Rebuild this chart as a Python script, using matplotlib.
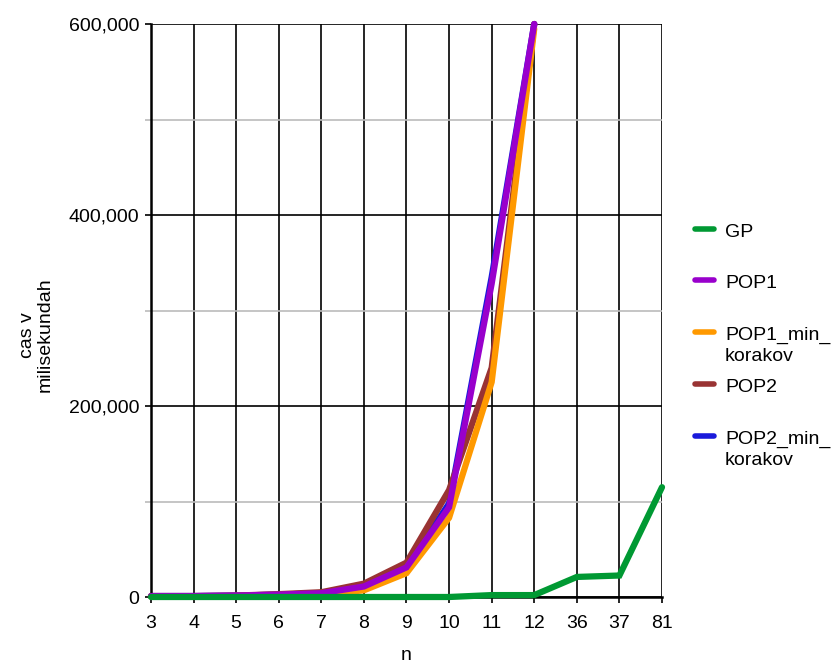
import matplotlib
matplotlib.use("Agg")
import matplotlib.pyplot as plt
from matplotlib.lines import Line2D
from matplotlib.ticker import FuncFormatter, MultipleLocator
import numpy as np

plt.rcParams['font.family'] = ['Liberation Sans', 'DejaVu Sans']

n_labels = ['3', '4', '5', '6', '7', '8', '9', '10', '11', '12', '36', '37', '81']

# cas v milisekundah
gp = [0, 0, 0, 0, 0, 0, 0, 0, 2000, 2000, 21000, 22500, 115000]
pop1 = [1000, 1000, 1500, 2500, 4000, 11000, 31000, 94000, 328000, 600000]
pop1_min = [500, 500, 1000, 1500, 2500, 7000, 25000, 83000, 225000, 595000]
pop2 = [1000, 1000, 1500, 3000, 5000, 14000, 36000, 112000, 240000, 600000]
pop2_min = [1000, 1000, 1500, 2500, 4000, 11000, 31000, 98000, 335000, 600000]

series = [
    ('GP', gp, '#009933', 6),
    ('POP1', pop1, '#9900cc', 5),
    ('POP1_min_\nkorakov', pop1_min, '#ff9900', 3),
    ('POP2', pop2, '#993333', 2),
    ('POP2_min_\nkorakov', pop2_min, '#1a1adb', 1),
]

fig = plt.figure(figsize=(8.37, 6.65), dpi=100)
W, H = 837, 665
ax = fig.add_axes([151 / W, 1 - 597 / H, (662 - 151) / W, (597 - 24) / H])

x = np.arange(len(n_labels))
for name, vals, col, z in series:
    ax.plot(x[:len(vals)], vals, color=col, lw=4.5, solid_capstyle='round',
            solid_joinstyle='miter', zorder=z, clip_on=False)

ax.set_xlim(0, len(n_labels) - 1)
ax.set_ylim(0, 600000)
ax.set_xticks(x)
ax.set_xticklabels(n_labels)
ax.yaxis.set_major_locator(MultipleLocator(200000))
ax.yaxis.set_minor_locator(MultipleLocator(100000))
ax.yaxis.set_major_formatter(FuncFormatter(lambda v, p: '{:,.0f}'.format(v)))

ax.grid(True, which='major', axis='both', color='black', lw=1.2, zorder=0)
ax.grid(True, which='minor', axis='y', color='#bbbbbb', lw=1.2, zorder=0)
ax.set_axisbelow(True)

for s in ['top', 'right']:
    ax.spines[s].set_visible(False)
ax.spines['left'].set_linewidth(1.8)
ax.spines['bottom'].set_linewidth(1.8)
ax.tick_params(axis='both', which='major', length=4.5, width=1.2, labelsize=14)
ax.tick_params(axis='x', which='major', pad=8.5)
ax.tick_params(axis='y', which='major', pad=4)
ax.tick_params(axis='y', which='minor', length=4.5, width=1.2, color='#bbbbbb')

ax.set_xlabel('n', fontsize=14, labelpad=11)
fig.text(36 / W, 1 - 335 / H, 'cas v\nmilisekundah', rotation=90, fontsize=14,
         ha='center', va='center', multialignment='center', linespacing=1.05)

# legend on the right, drawn by hand
leg_y = [229, 280, 332, 384, 436]
for (name, vals, col, z), yy in zip(series, leg_y):
    fy = 1 - yy / H
    fig.add_artist(Line2D([695 / W, 714 / W], [fy, fy], color=col, lw=4,
                          solid_capstyle='round', transform=fig.transFigure))
    fig.text(725 / W, 1 - (yy - 5) / H, name, fontsize=14, ha='left', va='top',
             linespacing=1.3)

fig.savefig('out.png', dpi=100)
